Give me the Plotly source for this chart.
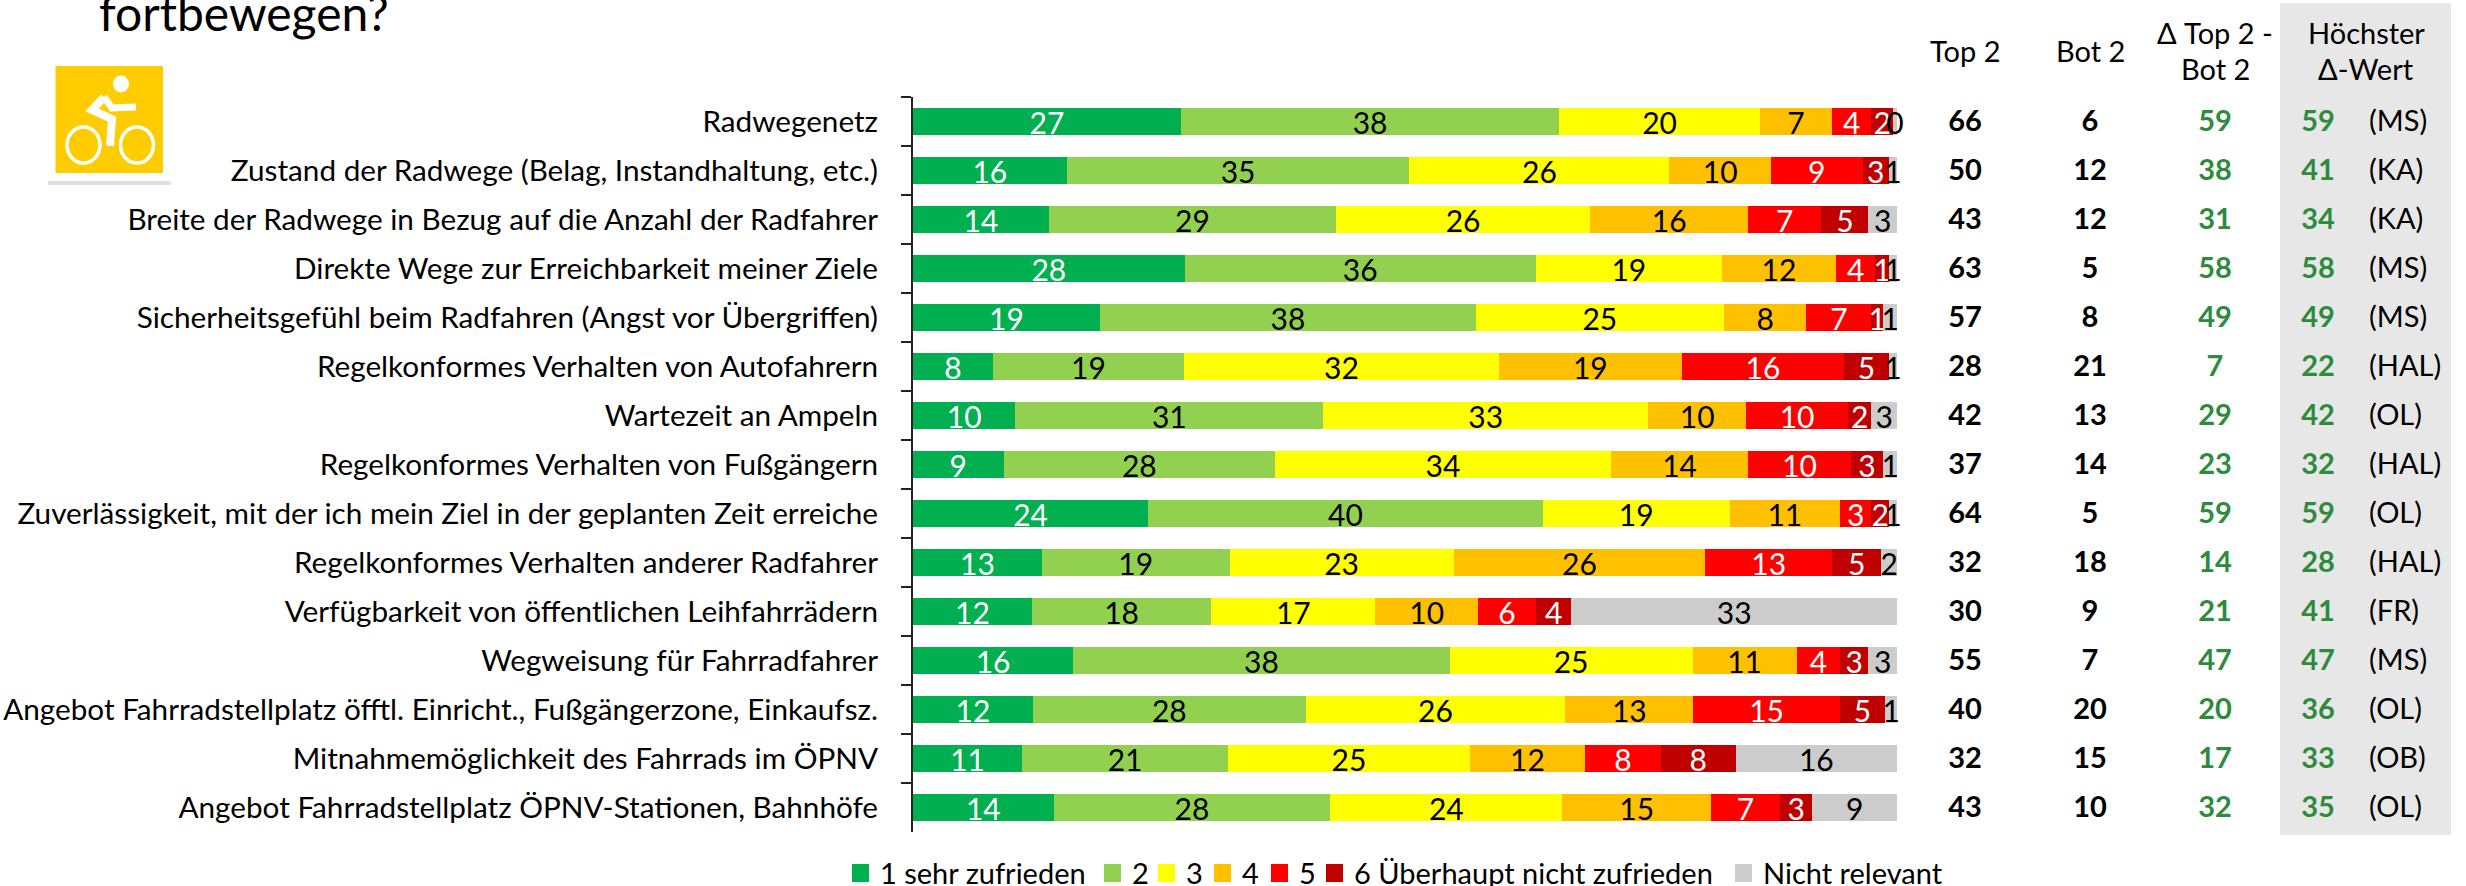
import plotly.graph_objects as go

W, H = 2466, 886
FONT = "Lato"

categories = [
    "Radwegenetz",
    "Zustand der Radwege (Belag, Instandhaltung, etc.)",
    "Breite der Radwege in Bezug auf die Anzahl der Radfahrer",
    "Direkte Wege zur Erreichbarkeit meiner Ziele",
    "Sicherheitsgefühl beim Radfahren (Angst vor Übergriffen)",
    "Regelkonformes Verhalten von Autofahrern",
    "Wartezeit an Ampeln",
    "Regelkonformes Verhalten von Fußgängern",
    "Zuverlässigkeit, mit der ich mein Ziel in der geplanten Zeit erreiche",
    "Regelkonformes Verhalten anderer Radfahrer",
    "Verfügbarkeit von öffentlichen Leihfahrrädern",
    "Wegweisung für Fahrradfahrer",
    "Angebot Fahrradstellplatz öfftl. Einricht., Fußgängerzone, Einkaufsz.",
    "Mitnahmemöglichkeit des Fahrrads im ÖPNV",
    "Angebot Fahrradstellplatz ÖPNV-Stationen, Bahnhöfe",
]

series_names = ["1 sehr zufrieden", "2", "3", "4", "5", "6 Überhaupt nicht zufrieden", "Nicht relevant"]
series_colors = ["#00B050", "#92D050", "#FFFF00", "#FFC000", "#FF0000", "#C00000", "#CCCCCC"]
label_colors = ["white", "black", "black", "black", "white", "white", "black"]

s1 = [27.2, 15.6, 13.8, 27.6, 19.0, 8.1, 10.4, 9.2, 23.9, 13.1, 12.1, 16.3, 12.2, 11.1, 14.3]
s2 = [38.4, 34.8, 29.2, 35.7, 38.2, 19.4, 31.3, 27.6, 40.1, 19.1, 18.2, 38.3, 27.7, 20.9, 28.1]
s3 = [20.4, 26.4, 25.8, 18.9, 25.2, 31.9, 33.0, 34.1, 19.0, 22.8, 16.7, 24.7, 26.4, 24.6, 23.6]
s4 = [7.3, 10.3, 16.1, 11.6, 8.4, 18.6, 10.0, 14.0, 11.2, 25.6, 10.4, 10.6, 13.0, 11.7, 15.1]
s5 = [4.0, 9.3, 7.4, 4.0, 6.6, 16.4, 10.3, 10.4, 3.2, 12.9, 5.9, 4.4, 14.9, 7.7, 7.0]
s6 = [2.2, 2.7, 4.8, 1.4, 1.2, 4.6, 2.4, 3.3, 1.8, 5.0, 3.6, 2.9, 4.6, 7.6, 3.3]
s7 = [0.4, 0.8, 2.9, 0.8, 1.4, 0.8, 2.6, 1.4, 0.8, 1.6, 33.1, 2.9, 1.2, 16.4, 8.6]
all_series = [s1, s2, s3, s4, s5, s6, s7]

top2 = [66, 50, 43, 63, 57, 28, 42, 37, 64, 32, 30, 55, 40, 32, 43]
bot2 = [6, 12, 12, 5, 8, 21, 13, 14, 5, 18, 9, 7, 20, 15, 10]
delta = [59, 38, 31, 58, 49, 7, 29, 23, 59, 14, 21, 47, 20, 17, 32]
best_delta = [59, 41, 34, 58, 49, 22, 42, 32, 59, 28, 41, 47, 36, 33, 35]
best_region = ["MS", "KA", "KA", "MS", "MS", "HAL", "OL", "HAL", "OL", "HAL", "FR", "MS", "OL", "OB", "OL"]


def px(x):
    return x / W


def py(y):
    return 1 - y / H


fig = go.Figure()
for name, vals, col, lab in zip(series_names, all_series, series_colors, label_colors):
    fig.add_trace(go.Bar(
        y=categories, x=vals, name=name, orientation="h",
        marker=dict(color=col, line=dict(width=0)),
        text=[f"{v:.0f}" for v in vals], textposition="inside", insidetextanchor="middle",
        textangle=0, constraintext="none", cliponaxis=False,
        insidetextfont=dict(family=FONT, size=30, color=lab), showlegend=False,
    ))


def column(xpos, texts, color, bold, anchor="middle center"):
    fig.add_trace(go.Scatter(
        x=[xpos] * len(texts), y=categories, xaxis="x2", yaxis="y2", mode="text", text=texts,
        textposition=anchor, cliponaxis=False, showlegend=False,
        textfont=dict(family=FONT, size=29, color=color, weight=700 if bold else 400),
    ))


GREEN = "#2E8B3E"
column(1965, [str(v) for v in top2], "black", True)
column(2090, [str(v) for v in bot2], "black", True)
column(2215, [str(v) for v in delta], GREEN, True)
column(2318, [str(v) for v in best_delta], GREEN, True)
column(2369, [f"({r})" for r in best_region], "black", False, "middle right")

shapes = []
annotations = []


def rect(x0, y0, x1, y1, color, layer="below", opacity=1):
    shapes.append(dict(type="rect", xref="paper", yref="paper", x0=px(x0), x1=px(x1), y0=py(y0), y1=py(y1),
                       fillcolor=color, line=dict(width=0), layer=layer, opacity=opacity))


def label(x, y, text, size=29, anchor="center", color="black"):
    annotations.append(dict(xref="paper", yref="paper", x=px(x), y=py(y), text=text, showarrow=False,
                            xanchor=anchor, yanchor="middle", align=anchor,
                            font=dict(family=FONT, size=size, color=color)))


# highlight panel behind the last column
rect(2280, 3, 2451, 835, "#E7E7E7")

# column headers
label(1965, 50, "Top 2")
label(2090, 50, "Bot 2")
label(2215, 32, "Δ Top 2 -")
label(2215, 69, "Bot 2")
label(2366, 32, "Höchster")
label(2366, 69, "Δ-Wert")

# title remnant
label(97, 12, "fortbewegen?", size=48, anchor="left")

# legend
leg_swatch = [852, 1104, 1158, 1214, 1271, 1326, 1735]
for xs, name, col in zip(leg_swatch, series_names, series_colors):
    rect(xs, 864, xs + 17, 882, col)
    label(xs + 26, 872, name, size=29, anchor="left")

# icon card
rect(48, 64, 171, 185, "#DADADA", opacity=0.8)
rect(48, 58, 171, 181, "#FFFFFF", layer="above")
rect(55.5, 66, 163, 173, "#FFCC00", layer="above")
for cx, cy, rx, ry, fill, lw in [(121, 84, 8, 8.5, "white", 0), (83.5, 145, 16.5, 18, "rgba(0,0,0,0)", 3.5),
                                 (137, 145, 16.5, 18, "rgba(0,0,0,0)", 3.5)]:
    shapes.append(dict(type="circle", xref="paper", yref="paper", x0=px(cx - rx), x1=px(cx + rx), y0=py(cy - ry),
                       y1=py(cy + ry), fillcolor=fill, line=dict(color="white", width=lw), layer="above"))
for pts, lw in [([(104, 97), (92, 110), (112, 119), (110, 146)], 8), ([(104, 97), (112, 108), (136, 107)], 7)]:
    d = "M " + " L ".join(f"{px(a):.5f},{py(b):.5f}" for a, b in pts)
    shapes.append(dict(type="path", xref="paper", yref="paper", path=d, line=dict(color="white", width=lw),
                       layer="above"))

fig.update_layout(
    width=W, height=H, margin=dict(l=0, r=0, t=0, b=0), autosize=False,
    paper_bgcolor="rgba(0,0,0,0)", plot_bgcolor="rgba(0,0,0,0)",
    barmode="stack", barnorm="percent", bargap=1 - 27 / 49,
    showlegend=False, shapes=shapes, annotations=annotations,
    font=dict(family=FONT, size=29, color="black"),
    xaxis=dict(domain=[px(913), px(1897)], range=[0, 100], visible=False, fixedrange=True),
    xaxis2=dict(domain=[0, 1], range=[0, W], anchor="y2", visible=False, fixedrange=True),
    yaxis=dict(
        domain=[py(832), py(97)], range=[14.5, -0.5], type="category", automargin=False,
        showline=True, linecolor="#222222", linewidth=2, ticks="outside", ticklen=10, tickwidth=2,
        tickcolor="#222222", tickson="boundaries", showgrid=False, ticklabelstandoff=27,
        tickfont=dict(family=FONT, size=29.7, color="black"), fixedrange=True,
    ),
    yaxis2=dict(domain=[py(834), py(99)], range=[14.5, -0.5], type="category", anchor="x2", visible=False,
                fixedrange=True),
)

fig.write_html("out.html", config=dict(displayModeBar=False),
               post_script="document.body.style.margin='0';document.documentElement.style.overflow='hidden';")
